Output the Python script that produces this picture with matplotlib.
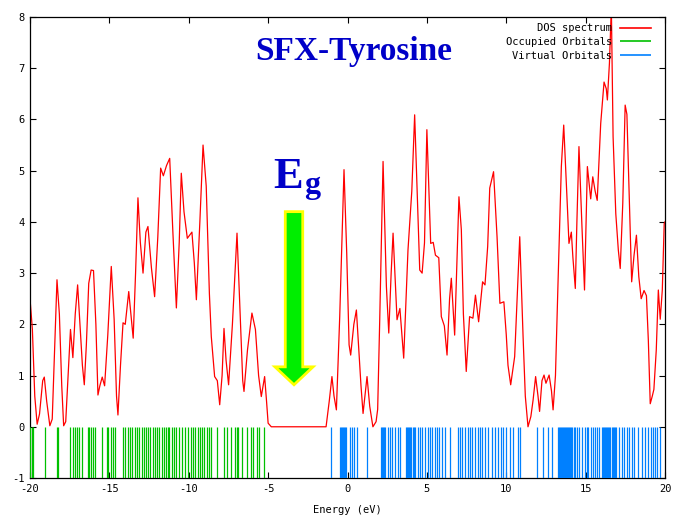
import matplotlib
matplotlib.use("Agg")
import matplotlib.pyplot as plt
from matplotlib.patches import Polygon

# DOS curve: energy (eV) and density
dos_energy = [
    -20.0, -19.85, -19.7, -19.55, -19.4, -19.2, -19.1, -18.95, -18.75, -18.6,
    -18.45, -18.3, -18.15, -18.0, -17.88, -17.75, -17.6, -17.45, -17.3, -17.15,
    -17.0, -16.85, -16.7, -16.58, -16.45, -16.3, -16.15, -16.0, -15.85, -15.72,
    -15.6, -15.45, -15.3, -15.1, -14.88, -14.7, -14.55, -14.46, -14.3, -14.14,
    -14.0, -13.78, -13.5, -13.35, -13.2, -13.05, -12.88, -12.7, -12.57, -12.35,
    -12.15, -11.95, -11.77, -11.6, -11.4, -11.2, -11.0, -10.78, -10.6, -10.47,
    -10.3, -10.09, -9.8, -9.65, -9.52, -9.3, -9.1, -8.9, -8.7, -8.58,
    -8.37, -8.2, -8.05, -7.9, -7.78, -7.65, -7.49, -7.25, -6.96, -6.8,
    -6.6, -6.52, -6.3, -6.02, -5.8, -5.6, -5.43, -5.22, -5.1, -5.0,
    -4.8, -1.35, -1.15, -0.98, -0.85, -0.7, -0.49, -0.22, -0.05, 0.1,
    0.2, 0.4, 0.56, 0.7, 0.85, 0.98, 1.1, 1.23, 1.4, 1.6,
    1.8, 1.9, 2.03, 2.24, 2.45, 2.6, 2.75, 2.87, 3.12, 3.3,
    3.54, 3.81, 4.05, 4.23, 4.44, 4.55, 4.7, 4.85, 5.0, 5.1,
    5.24, 5.4, 5.54, 5.75, 5.91, 6.1, 6.27, 6.43, 6.54, 6.75,
    7.02, 7.17, 7.3, 7.48, 7.69, 7.9, 8.06, 8.26, 8.51, 8.66,
    8.83, 8.96, 9.2, 9.42, 9.6, 9.85, 10.0, 10.11, 10.28, 10.53,
    10.7, 10.85, 11.06, 11.2, 11.37, 11.55, 11.69, 11.85, 12.0, 12.1,
    12.25, 12.38, 12.5, 12.7, 12.85, 12.95, 13.1, 13.26, 13.47, 13.62,
    13.75, 13.86, 13.95, 14.1, 14.2, 14.35, 14.45, 14.58, 14.77, 14.93,
    15.11, 15.32, 15.45, 15.6, 15.73, 15.95, 16.16, 16.3, 16.37, 16.5,
    16.62, 16.73, 16.9, 17.06, 17.18, 17.34, 17.49, 17.6, 17.77, 17.9,
    18.05, 18.2, 18.35, 18.5, 18.68, 18.83, 18.95, 19.07, 19.2, 19.3,
    19.45, 19.58, 19.7, 19.83, 19.95, 20.0,
]
dos_value = [
    2.5, 1.9, 0.6, 0.05, 0.25, 0.9, 0.97, 0.5, 0.02, 0.15,
    1.5, 2.87, 2.2, 0.8, 0.02, 0.1, 1.0, 1.9, 1.35, 2.2,
    2.77, 2.0, 1.2, 0.82, 1.6, 2.8, 3.06, 3.05, 2.0, 0.62,
    0.8, 0.97, 0.8, 1.79, 3.13, 2.1, 0.6, 0.23, 1.2, 2.03,
    2.0, 2.64, 1.73, 3.0, 4.47, 3.6, 3.0, 3.8, 3.91, 3.1,
    2.54, 3.7, 5.05, 4.9, 5.1, 5.24, 3.8, 2.32, 3.6, 4.95,
    4.2, 3.68, 3.8, 3.2, 2.48, 4.0, 5.5, 4.7, 2.6, 1.76,
    0.98, 0.9, 0.43, 1.0, 1.92, 1.3, 0.82, 2.0, 3.78, 2.5,
    0.9, 0.69, 1.5, 2.22, 1.9, 1.0, 0.59, 0.98, 0.5, 0.07,
    0.0, 0.0, 0.5, 0.98, 0.6, 0.33, 2.15, 5.02, 3.4, 1.6,
    1.4, 2.0, 2.28, 1.56, 0.8, 0.26, 0.6, 0.98, 0.4, 0.0,
    0.1, 0.34, 2.09, 5.18, 2.74, 1.83, 3.0, 3.78, 2.09, 2.31,
    1.34, 3.45, 4.6, 6.09, 4.1, 3.06, 3.0, 3.59, 5.8, 4.9,
    3.58, 3.6, 3.35, 3.3, 2.15, 1.97, 1.4, 2.5, 2.9, 1.79,
    4.49, 3.85, 2.2, 1.08, 2.15, 2.12, 2.57, 2.05, 2.83, 2.77,
    3.52, 4.66, 4.98, 3.71, 2.41, 2.44, 1.8, 1.2, 0.82, 1.37,
    2.6, 3.71, 1.76, 0.6, 0.0, 0.2, 0.52, 0.98, 0.6, 0.3,
    0.9, 1.01, 0.85, 1.01, 0.7, 0.33, 1.0, 2.8, 5.08, 5.89,
    5.0, 4.23, 3.58, 3.8, 3.3, 2.7, 4.0, 5.47, 3.9, 2.67,
    5.08, 4.45, 4.88, 4.6, 4.42, 5.92, 6.73, 6.6, 6.38, 7.1,
    8.2, 5.66, 4.16, 3.45, 3.09, 4.36, 6.28, 6.1, 4.23, 2.83,
    3.35, 3.74, 2.93, 2.5, 2.66, 2.56, 1.69, 0.45, 0.6, 0.73,
    1.5, 2.67, 2.1, 2.67, 3.97, 4.0,
]

# orbital energies (eV)
occupied = [
    -20.0, -19.9, -19.79, -19.06, -18.32, -18.26, -17.48, -17.31, -17.17, -17.02,
    -16.89, -16.7, -16.37, -16.26, -16.18, -16.01, -15.91, -15.49, -15.17, -15.07,
    -14.9, -14.75, -14.65, -14.12, -14.02, -13.81, -13.7, -13.55, -13.39, -13.24,
    -13.11, -12.97, -12.82, -12.69, -12.55, -12.44, -12.27, -12.13, -11.98, -11.85,
    -11.71, -11.56, -11.45, -11.33, -11.22, -11.08, -10.93, -10.8, -10.62, -10.45,
    -10.24, -10.07, -9.86, -9.71, -9.61, -9.4, -9.29, -9.17, -9.04, -8.87,
    -8.7, -8.58, -8.24, -7.78, -7.61, -7.36, -7.09, -6.98, -6.88, -6.67,
    -6.35, -6.1, -5.93, -5.72, -5.55, -5.26,
]
virtual = [
    -1.02, -0.45, -0.38, -0.32, -0.26, -0.2, -0.14, -0.08, 0.16, 0.3,
    0.43, 0.62, 1.21, 2.11, 2.17, 2.23, 2.3, 2.36, 2.53, 2.68,
    2.82, 2.99, 3.16, 3.31, 3.66, 3.72, 3.8, 3.87, 3.94, 4.02,
    4.1, 4.18, 4.25, 4.42, 4.57, 4.71, 4.88, 5.05, 5.2, 5.34,
    5.51, 5.62, 5.76, 5.93, 6.14, 6.46, 6.94, 7.09, 7.23, 7.4,
    7.57, 7.72, 7.86, 8.03, 8.2, 8.35, 8.49, 8.66, 8.87, 9.08,
    9.29, 9.5, 9.67, 9.82, 9.96, 10.24, 10.45, 10.76, 10.87, 11.92,
    12.34, 12.65, 12.9, 13.24, 13.3, 13.37, 13.43, 13.5, 13.56, 13.62,
    13.7, 13.76, 13.83, 13.9, 13.96, 14.03, 14.1, 14.17, 14.24, 14.33,
    14.44, 14.58, 14.75, 14.96, 15.07, 15.17, 15.34, 15.49, 15.6, 15.7,
    15.85, 16.01, 16.07, 16.14, 16.2, 16.27, 16.33, 16.4, 16.48, 16.55,
    16.64, 16.7, 16.79, 16.85, 16.94, 17.1, 17.27, 17.44, 17.59, 17.73,
    17.9, 18.07, 18.32, 18.56, 18.73, 18.9, 19.1, 19.22, 19.37, 19.52,
    19.69,
]

xticks = [-20, -15, -10, -5, 0, 5, 10, 15, 20]
yticks = [-1, 0, 1, 2, 3, 4, 5, 6, 7, 8]

plt.rcParams['axes.unicode_minus'] = False
mono = 'DejaVu Sans Mono'

fig = plt.figure(figsize=(6.75, 5.22), dpi=100)
ax = fig.add_axes([30 / 675, 44 / 522, 635 / 675, 461 / 522])

ax.plot(dos_energy, dos_value, color='#ff0000', lw=0.9, label='DOS spectrum', zorder=2)
ax.vlines(occupied, -1, 0, color='#00c000', lw=0.9, label='Occupied Orbitals', zorder=3)
ax.vlines(virtual, -1, 0, color='#0080ff', lw=0.9, label='Virtual Orbitals', zorder=3)

ax.set_xlim(-20, 20)
ax.set_ylim(-1, 8)
ax.set_xticks(xticks)
ax.set_yticks(yticks)
ax.set_xticklabels([str(t) for t in xticks], fontfamily=mono, fontsize=7.5)
ax.set_yticklabels([str(t) for t in yticks], fontfamily=mono, fontsize=7.5)
ax.tick_params(direction='in', length=4, width=0.8, top=True, right=True,
               labelsize=7.5, pad=4)
for s in ax.spines.values():
    s.set_linewidth(0.9)
ax.set_xlabel('Energy (eV)', fontfamily=mono, fontsize=7.5, labelpad=8)

leg = ax.legend(loc='upper right', bbox_to_anchor=(1 - 6 / 635, 1 + 2 / 461),
                markerfirst=False, frameon=False,
                prop={'family': mono, 'size': 7.5}, handlelength=2.9,
                handletextpad=0.8, labelspacing=0.35, borderaxespad=0.4)
for line in leg.get_lines():
    line.set_linewidth(1.2)

# band gap arrow
cx = -3.37
shaft, head = 0.55, 1.2
top, neck, tip = 4.2, 1.17, 0.82
arrow = Polygon([(cx - shaft, top), (cx + shaft, top), (cx + shaft, neck),
                 (cx + head, neck), (cx, tip), (cx - head, neck),
                 (cx - shaft, neck)], closed=True,
                facecolor='#00ee00', edgecolor='#ffff00', lw=2.0, zorder=4)
ax.add_patch(arrow)

serif = 'Liberation Serif'
fig.text(255 / 675, 1 - 60 / 522, 'SFX-Tyrosine', fontfamily=serif,
         fontweight='bold', fontsize=24, color='#0000c8', ha='left', va='baseline')
fig.text(273 / 675, 1 - 188 / 522, 'E', fontfamily=serif, fontweight='bold',
         fontsize=32, color='#0000c8', ha='left', va='baseline')
fig.text(304 / 675, 1 - 193 / 522, 'g', fontfamily=serif, fontweight='bold',
         fontsize=23, color='#0000c8', ha='left', va='baseline')

fig.savefig('out.png', dpi=100)
